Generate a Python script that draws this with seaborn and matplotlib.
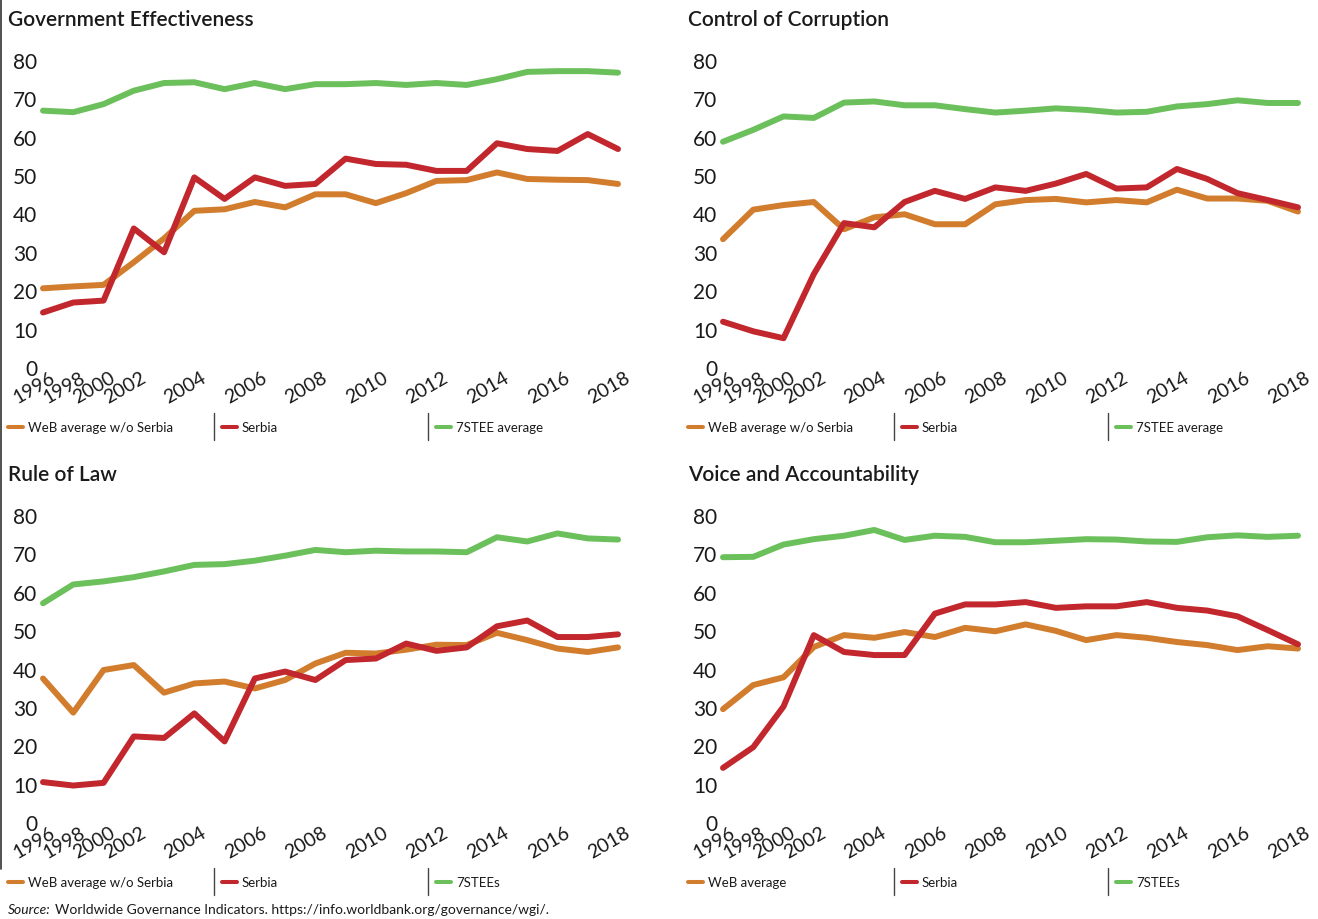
import matplotlib
matplotlib.use("Agg")
import matplotlib.pyplot as plt
from matplotlib.lines import Line2D
from matplotlib.transforms import ScaledTranslation
import numpy as np
import pandas as pd
import seaborn as sns

years = [1996, 1998, 2000, 2002, 2003, 2004, 2005, 2006, 2007, 2008,
         2009, 2010, 2011, 2012, 2013, 2014, 2015, 2016, 2017, 2018]
label_years = [1996, 1998, 2000, 2002, 2004, 2006, 2008, 2010, 2012, 2014, 2016, 2018]

# Government Effectiveness
ge_web = [20.5, 21.0, 21.4, 27.3, 33.5, 40.7, 41.1, 43.0, 41.6, 45.0,
          45.0, 42.7, 45.3, 48.5, 48.7, 50.7, 49.0, 48.8, 48.7, 47.7]
ge_serbia = [14.2, 16.8, 17.3, 36.1, 29.9, 49.4, 43.8, 49.4, 47.2, 47.7,
             54.3, 52.9, 52.7, 51.1, 51.1, 58.3, 56.8, 56.3, 60.7, 56.8]
ge_stee = [66.8, 66.4, 68.5, 72.0, 74.0, 74.2, 72.4, 74.0, 72.4, 73.7,
           73.7, 74.0, 73.5, 74.0, 73.5, 75.0, 76.9, 77.1, 77.1, 76.7]

# Control of Corruption
cc_web = [33.3, 41.0, 42.2, 43.0, 35.9, 39.0, 39.8, 37.2, 37.2, 42.4,
          43.5, 43.8, 42.9, 43.5, 42.9, 46.2, 43.9, 43.9, 43.3, 40.5]
cc_serbia = [11.8, 9.3, 7.5, 24.2, 37.5, 36.4, 43.0, 45.9, 43.8, 46.8,
             45.9, 47.8, 50.3, 46.5, 46.8, 51.6, 49.0, 45.3, 43.5, 41.6]
cc_stee = [58.7, 61.8, 65.3, 64.9, 68.9, 69.2, 68.2, 68.2, 67.2, 66.3,
           66.8, 67.4, 67.0, 66.3, 66.5, 67.9, 68.5, 69.5, 68.8, 68.8]

# Rule of Law
rl_web = [37.4, 28.5, 39.6, 40.9, 33.7, 36.1, 36.6, 34.8, 37.0, 41.3,
          44.1, 43.9, 44.9, 46.2, 46.1, 49.3, 47.4, 45.2, 44.3, 45.5]
rl_serbia = [10.4, 9.5, 10.2, 22.3, 21.9, 28.3, 21.0, 37.4, 39.2, 37.0,
             42.2, 42.6, 46.5, 44.6, 45.5, 51.0, 52.5, 48.2, 48.2, 48.9]
rl_stee = [57.0, 61.9, 62.7, 63.8, 65.3, 67.0, 67.2, 68.1, 69.4, 70.9,
           70.3, 70.7, 70.5, 70.5, 70.3, 74.2, 73.1, 75.2, 73.9, 73.6]

# Voice and Accountability
va_web = [29.4, 35.7, 37.7, 45.6, 48.7, 48.0, 49.5, 48.2, 50.6, 49.7,
          51.5, 49.8, 47.4, 48.7, 48.0, 46.9, 46.1, 44.8, 45.8, 45.2]
va_serbia = [14.1, 19.5, 30.1, 48.7, 44.3, 43.5, 43.5, 54.3, 56.7, 56.7,
             57.3, 55.8, 56.2, 56.2, 57.3, 55.8, 55.1, 53.6, 50.0, 46.3]
va_stee = [69.0, 69.1, 72.3, 73.7, 74.6, 76.1, 73.5, 74.6, 74.3, 72.9,
           72.9, 73.3, 73.7, 73.6, 73.1, 73.0, 74.2, 74.7, 74.3, 74.6]

colors = ["#D27D2E", "#C1272D", "#6CC05C"]

panels = [
    ("Government Effectiveness", (0, 0), [ge_web, ge_serbia, ge_stee],
     ["WeB average w/o Serbia", "Serbia", "7STEE average"]),
    ("Control of Corruption", (680, 0), [cc_web, cc_serbia, cc_stee],
     ["WeB average w/o Serbia", "Serbia", "7STEE average"]),
    ("Rule of Law", (0, 455), [rl_web, rl_serbia, rl_stee],
     ["WeB average w/o Serbia", "Serbia", "7STEEs"]),
    ("Voice and Accountability", (680, 455), [va_web, va_serbia, va_stee],
     ["WeB average", "Serbia", "7STEEs"]),
]

sns.set_style("white")
plt.rcParams['font.family'] = ['Lato', 'DejaVu Sans']
plt.rcParams['text.color'] = '#1a1a1a'

W, H = 1318, 920
fig = plt.figure(figsize=(W / 100, H / 100), dpi=100)


def fx(px):
    return px / W


def fy(py):
    return 1 - py / H


pos = np.arange(len(years))
tick_pos = [years.index(y) for y in label_years]

for title, (ox, oy), series, labels in panels:
    ax = fig.add_axes([fx(ox + 43), fy(oy + 368), 575 / W, 307 / H])
    ax.patch.set_alpha(0)
    df = pd.DataFrame({
        "pos": np.tile(pos, 3),
        "value": np.concatenate(series),
        "series": np.repeat(labels, len(years)),
    })
    sns.lineplot(data=df, x="pos", y="value", hue="series", hue_order=labels,
                 palette=colors, linewidth=4.3, legend=False, ax=ax)
    for ln in ax.lines:
        ln.set_solid_capstyle("round")
        ln.set_solid_joinstyle("round")
        ln.set_clip_on(False)
    ax.set_xlim(0, 19)
    ax.set_ylim(0, 80)
    ax.tick_params(axis="both", length=0, colors="#1a1a1a")
    ax.tick_params(axis="y", pad=4.3, labelsize=15)
    ax.tick_params(axis="x", pad=1)
    ax.set_yticks(range(0, 81, 10))
    ax.set_xticks(tick_pos)
    ax.set_xticklabels([str(y) for y in label_years], rotation=30, ha="center",
                       fontsize=14)
    # tick_params resets label transforms, so shift the labels afterwards
    shift = ScaledTranslation(-9 / 100, 0, fig.dpi_scale_trans)
    for lab in ax.get_xticklabels():
        lab.set_transform(lab.get_transform() + shift)
    ax.set_xlabel("")
    ax.set_ylabel("")
    sns.despine(ax=ax, left=True, bottom=True)

    fig.text(fx(ox + 8), fy(oy + 20), title, fontsize=15, fontweight="semibold",
             va="center", ha="left")

    # legend row
    ly = oy + 428
    for i, (lab, c) in enumerate(zip(labels, colors)):
        x0 = ox + 8 + i * 214
        fig.add_artist(Line2D([fx(x0), fx(x0 + 15)], [fy(ly), fy(ly)],
                              transform=fig.transFigure, color=c, lw=2.9))
        fig.text(fx(x0 + 20), fy(ly), lab, fontsize=9.5, va="center", ha="left")
        if i > 0:
            sx = ox + i * 214
            fig.add_artist(Line2D([fx(sx), fx(sx)], [fy(oy + 414), fy(oy + 441)],
                                  transform=fig.transFigure, color="#444444", lw=1))

# left page border
fig.add_artist(Line2D([fx(1), fx(1)], [fy(0), fy(870)], transform=fig.transFigure,
                      color="#333333", lw=1.2))

src = fig.text(fx(8), fy(910), "Source:", fontsize=10, style="italic", va="center", ha="left")
fig.canvas.draw()
bb = src.get_window_extent()
fig.text(fx(bb.x1 + 4), fy(910),
         "Worldwide Governance Indicators. https://info.worldbank.org/governance/wgi/.",
         fontsize=10, va="center", ha="left")

fig.savefig("out.png", dpi=100)
